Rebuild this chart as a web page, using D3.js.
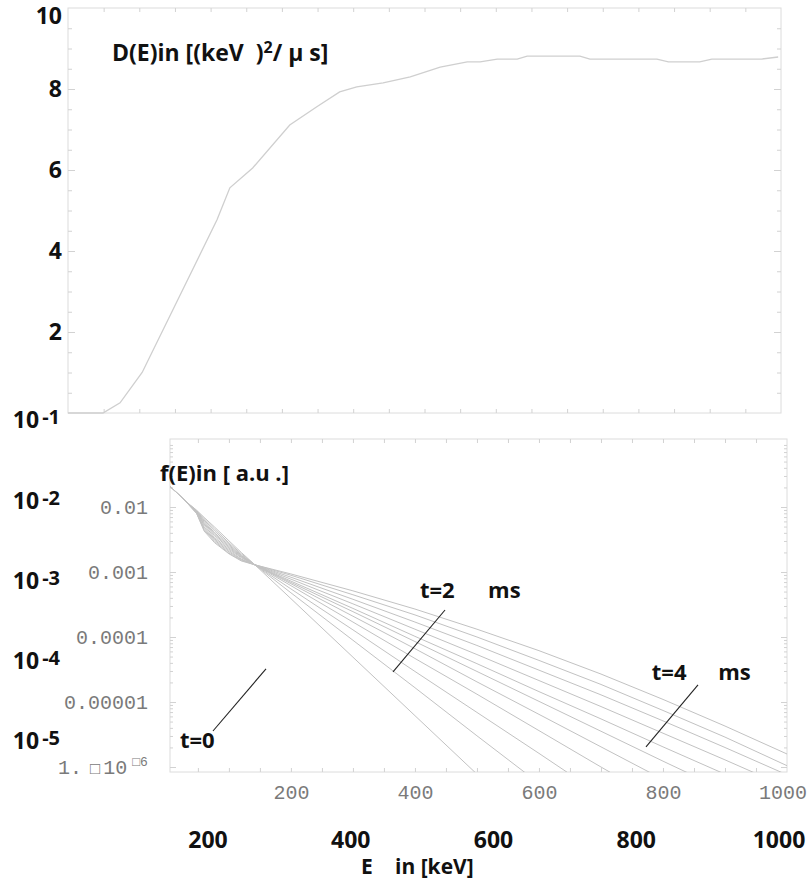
<!DOCTYPE html>
<html>
<head>
<meta charset="utf-8">
<script src="https://cdn.jsdelivr.net/npm/d3@7/dist/d3.min.js"></script>
<style>
  body { margin: 0; background: #fff; }
  svg { display: block; }
  .bold { font-family: "Open Sans", sans-serif; font-weight: 700; fill: #111; }
</style>
</head>
<body>
<svg id="chart" width="810" height="884"></svg>
<script>
// ---------- DATA ----------
// Top panel: diffusion coefficient D(E)
const dEnergy = [0, 49, 73, 104, 209, 227, 259, 311, 349, 381, 405, 442, 480, 522, 560, 578, 602, 630, 644, 718, 732, 826, 842, 886, 903, 973, 996];
const dValues = [0, 0, 0.25, 1.0, 4.77, 5.56, 6.05, 7.11, 7.56, 7.93, 8.05, 8.15, 8.3, 8.54, 8.67, 8.67, 8.74, 8.74, 8.81, 8.81, 8.74, 8.74, 8.67, 8.67, 8.74, 8.74, 8.79];

// Bottom panel: distribution f(E) at successive times (log10 values, null = off chart)
const fEnergy = [5, 30, 48, 60, 77, 100, 120, 142, 200, 300, 400, 500, 600, 700, 800, 900, 1000];
const fTimes = ["0", "0.4", "0.8", "1.2", "1.6", "2.0", "2.4", "2.8", "3.2", "3.6", "4.0"];
const fLog_t00 = [-1.68, -1.91, -2.05, -2.16, -2.31, -2.52, -2.70, -2.89, -3.41, -4.31, -5.21, -6.11, null, null, null, null, null];
const fLog_t04 = [-1.68, -1.91, -2.06, -2.18, -2.34, -2.55, -2.72, -2.89, -3.32, -4.05, -4.78, -5.52, -6.25, null, null, null, null];
const fLog_t08 = [-1.68, -1.91, -2.06, -2.20, -2.37, -2.57, -2.74, -2.89, -3.26, -3.89, -4.53, -5.16, -5.79, -6.43, null, null, null];
const fLog_t12 = [-1.68, -1.91, -2.07, -2.22, -2.40, -2.59, -2.75, -2.89, -3.21, -3.77, -4.33, -4.88, -5.44, -6.00, -6.55, null, null];
const fLog_t16 = [-1.68, -1.91, -2.07, -2.24, -2.42, -2.61, -2.76, -2.89, -3.18, -3.68, -4.18, -4.69, -5.19, -5.69, -6.19, null, null];
const fLog_t20 = [-1.68, -1.91, -2.08, -2.26, -2.44, -2.63, -2.77, -2.89, -3.16, -3.61, -4.07, -4.53, -4.99, -5.45, -5.91, -6.36, null];
const fLog_t24 = [-1.68, -1.91, -2.08, -2.28, -2.47, -2.65, -2.78, -2.89, -3.14, -3.56, -3.99, -4.41, -4.84, -5.26, -5.69, -6.11, null];
const fLog_t28 = [-1.68, -1.91, -2.09, -2.31, -2.49, -2.67, -2.80, -2.89, -3.11, -3.49, -3.88, -4.27, -4.67, -5.07, -5.48, -5.89, -6.31];
const fLog_t32 = [-1.68, -1.91, -2.09, -2.33, -2.51, -2.69, -2.81, -2.89, -3.08, -3.42, -3.77, -4.13, -4.51, -4.89, -5.29, -5.70, -6.12];
const fLog_t36 = [-1.68, -1.91, -2.10, -2.35, -2.53, -2.71, -2.82, -2.89, -3.05, -3.35, -3.66, -4.00, -4.36, -4.73, -5.13, -5.54, -5.98];
const fLog_t40 = [-1.68, -1.91, -2.10, -2.37, -2.55, -2.72, -2.83, -2.89, -3.03, -3.29, -3.57, -3.88, -4.21, -4.57, -4.96, -5.37, -5.80];
const fSeries = [fLog_t00, fLog_t04, fLog_t08, fLog_t12, fLog_t16, fLog_t20, fLog_t24, fLog_t28, fLog_t32, fLog_t36, fLog_t40];

// Tick labels
const topYTicks = [10, 8, 6, 4, 2];
const topYTickLabels = ["10", "8", "6", "4", "2"];
const boldLogTicks = [1e-1, 1e-2, 1e-3, 1e-4, 1e-5];
const boldLogExp = ["-1", "-2", "-3", "-4", "-5"];
const botYTicks = [1e-2, 1e-3, 1e-4, 1e-5];
const botYTickLabels = ["0.01", "0.001", "0.0001", "0.00001"];
const botYLastTick = 1e-6;
const botYLastParts = ["1.", "\u25A1", "10", "\u25A16"];
const botXTicks = [200, 400, 600, 800, 1000];
const botXTickLabels = ["200", "400", "600", "800", "1000"];
const boldXTicks = [200, 400, 600, 800, 1000];
const boldXTickLabels = ["200", "400", "600", "800", "1000"];

// Annotations (in bottom-panel data coordinates: energy, log10 f)
const annLines = [
  { e1: 159.8, l1: -4.49, e2: 74.3, l2: -5.446 },
  { e1: 448.5, l1: -3.585, e2: 364.6, l2: -4.538 },
  { e1: 856.5, l1: -4.738, e2: 772.6, l2: -5.692 }
];
const annLabels = [
  { text: "t=0", e: 21, l: -5.71, unit: null, eUnit: null },
  { text: "t=2", e: 408, l: -3.40, unit: "ms", eUnit: 518 },
  { text: "t=4", e: 782, l: -4.66, unit: "ms", eUnit: 889 }
];

// ---------- SCALES ----------
const svg = d3.select("#chart");
const xTop = d3.scaleLinear().domain([0, 1000]).range([68, 781]);
const yTop = d3.scaleLinear().domain([0, 10]).range([413, 8]);
const xBot = d3.scaleLinear().domain([5, 1000]).range([170, 787]);
const yBot = d3.scaleLog().domain([Math.pow(10, -6.077), Math.pow(10, -0.954)]).range([772, 439]);
const yBold = d3.scaleLog().domain([1e-1, 1e-5]).range([420, 741]);
const xBold = d3.scaleLinear().domain([200, 1000]).range([208, 779]);

const frameColor = "#dcdcdc";
const tickColor = "#d2d2d2";
const BOLD = 23;

function ticks(axisFn, scale, vals, size, tx, ty) {
  const g = svg.append("g").attr("transform", `translate(${tx},${ty})`)
    .call(axisFn(scale).tickValues(vals).tickSize(size).tickFormat(""));
  g.select(".domain").remove();
  g.selectAll("line").attr("stroke", tickColor).attr("stroke-width", 1);
}

// ---------- TOP PANEL ----------
svg.append("rect").attr("x", xTop(0)).attr("y", yTop(10))
  .attr("width", xTop(1000) - xTop(0)).attr("height", yTop(0) - yTop(10))
  .attr("fill", "none").attr("stroke", frameColor);

const topX = d3.range(50, 1000, 50);
ticks(d3.axisBottom, xTop, topX, -4, 0, yTop(0));
ticks(d3.axisTop, xTop, topX, -4, 0, yTop(10));
const topYmin = d3.range(0.5, 10, 0.5).filter(v => v % 2 !== 0);
const topYmaj = [2, 4, 6, 8];
ticks(d3.axisLeft, yTop, topYmin, -4, xTop(0), 0);
ticks(d3.axisLeft, yTop, topYmaj, -7, xTop(0), 0);
ticks(d3.axisRight, yTop, topYmin, -4, xTop(1000), 0);
ticks(d3.axisRight, yTop, topYmaj, -7, xTop(1000), 0);

svg.append("path")
  .datum(dEnergy.map((e, i) => [e, dValues[i]]))
  .attr("fill", "none").attr("stroke", "#cfcfcf").attr("stroke-width", 1.3)
  .attr("d", d3.line().x(d => xTop(d[0])).y(d => yTop(d[1])));

// Top title
const tTitle = svg.append("text").attr("class", "bold").attr("x", 112).attr("y", 61)
  .attr("font-size", BOLD).style("white-space", "pre");
tTitle.append("tspan").text("D(E)in [(keV  )");
tTitle.append("tspan").attr("font-size", 16).attr("dy", -8).text("2");
tTitle.append("tspan").attr("dy", 8).text("/ \u03bc s]");

// Bold y labels for top panel
svg.append("g").selectAll("text").data(topYTicks).join("text")
  .attr("class", "bold").attr("font-size", BOLD).attr("text-anchor", "end")
  .attr("x", 62).attr("y", d => Math.max(yTop(d), 16)).attr("dy", "0.36em")
  .text((d, i) => topYTickLabels[i]);

// Bold log labels (10^-1 ... 10^-5)
const bl = svg.append("g").selectAll("text").data(boldLogTicks).join("text")
  .attr("class", "bold").attr("font-size", BOLD).attr("text-anchor", "end")
  .attr("x", 60).attr("y", d => yBold(d)).attr("dy", "0.36em");
bl.append("tspan").text("10");
bl.append("tspan").attr("font-size", 20).attr("dx", 3).attr("dy", -4).text((d, i) => boldLogExp[i]);

// ---------- BOTTOM PANEL ----------
svg.append("rect").attr("x", xBot.range()[0]).attr("y", yBot.range()[1])
  .attr("width", xBot.range()[1] - xBot.range()[0]).attr("height", yBot.range()[0] - yBot.range()[1])
  .attr("fill", "none").attr("stroke", frameColor);

const botX = d3.range(50, 1000, 50);
ticks(d3.axisBottom, xBot, botX, -4, 0, yBot.range()[0]);
ticks(d3.axisTop, xBot, botX, -4, 0, yBot.range()[1]);
const decades = [1e-6, 1e-5, 1e-4, 1e-3, 1e-2, 1e-1];
const minorLog = [];
decades.forEach(dd => { for (let m = 2; m <= 9; m++) { const v = dd * m; if (v < yBot.domain()[1]) minorLog.push(v); } });
const majorLog = [1e-6, 1e-5, 1e-4, 1e-3, 1e-2];
ticks(d3.axisLeft, yBot, minorLog, -3, xBot.range()[0], 0);
ticks(d3.axisLeft, yBot, majorLog, -6, xBot.range()[0], 0);
ticks(d3.axisRight, yBot, minorLog, -3, xBot.range()[1], 0);
ticks(d3.axisRight, yBot, majorLog, -6, xBot.range()[1], 0);

// clip
svg.append("clipPath").attr("id", "clipBot").append("rect")
  .attr("x", xBot.range()[0]).attr("y", yBot.range()[1])
  .attr("width", xBot.range()[1] - xBot.range()[0]).attr("height", yBot.range()[0] - yBot.range()[1]);

const fLine = d3.line().defined(d => d[1] !== null)
  .x(d => xBot(d[0])).y(d => yBot(Math.pow(10, d[1])));
svg.append("g").attr("clip-path", "url(#clipBot)").selectAll("path")
  .data(fSeries).join("path")
  .attr("fill", "none").attr("stroke", "#c2c2c2").attr("stroke-width", 1)
  .attr("d", s => fLine(fEnergy.map((e, i) => [e, s[i]])));

// gray y tick labels
const gy = svg.append("g").attr("transform", `translate(${xBot.range()[0]},0)`)
  .call(d3.axisLeft(yBot).tickValues(botYTicks).tickSize(0).tickPadding(22)
    .tickFormat((d, i) => botYTickLabels[i]));
gy.select(".domain").remove();
gy.selectAll("text").attr("font-size", 20)
  .attr("font-family", "Liberation Mono").attr("fill", "#7a7a7a");

// last (1e-6) label with missing-glyph boxes, as in the original
const last = svg.append("text").attr("font-family", "Liberation Mono").attr("fill", "#7a7a7a")
  .attr("font-size", 20).attr("x", 58).attr("y", yBot(botYLastTick)).attr("dy", "0.36em");
last.append("tspan").text(botYLastParts[0]);
last.append("tspan").attr("dx", 8).attr("font-size", 17).text(botYLastParts[1]);
last.append("tspan").attr("dx", 3).text(botYLastParts[2]);
last.append("tspan").attr("dx", 5).attr("dy", -8).attr("font-size", 13).text(botYLastParts[3]);

// gray x tick labels
const gx = svg.append("g").attr("transform", `translate(0,${yBot.range()[0]})`)
  .call(d3.axisBottom(xBot).tickValues(botXTicks).tickSize(0).tickPadding(13)
    .tickFormat((d, i) => botXTickLabels[i]));
gx.select(".domain").remove();
gx.selectAll("text").attr("font-size", 20).attr("font-family", "Liberation Mono").attr("fill", "#7a7a7a");
gx.selectAll("text").each(function () {
  const w = this.getComputedTextLength();
  const tick = this.parentNode.getAttribute("transform");
  const xPos = +tick.match(/translate\(([-\d.]+)/)[1];
  if (xPos + w / 2 > 807) d3.select(this).attr("x", 807 - w / 2 - xPos);
});

// f(E) title
svg.append("text").attr("class", "bold").attr("x", 160).attr("y", 481)
  .attr("font-size", 22).style("white-space", "pre").text("f(E)in [ a.u .]");

// annotations
svg.append("g").selectAll("line").data(annLines).join("line")
  .attr("x1", d => xBot(d.e1)).attr("y1", d => yBot(Math.pow(10, d.l1)))
  .attr("x2", d => xBot(d.e2)).attr("y2", d => yBot(Math.pow(10, d.l2)))
  .attr("stroke", "#222").attr("stroke-width", 1.1);
svg.append("g").selectAll("text").data(annLabels).join("text")
  .attr("class", "bold").attr("font-size", 22)
  .attr("x", d => xBot(d.e)).attr("y", d => yBot(Math.pow(10, d.l)))
  .text(d => d.text);
svg.append("g").selectAll("text").data(annLabels.filter(d => d.unit)).join("text")
  .attr("class", "bold").attr("font-size", 22)
  .attr("x", d => xBot(d.eUnit)).attr("y", d => yBot(Math.pow(10, d.l)))
  .text(d => d.unit);

// bold x labels and axis title
svg.append("g").selectAll("text").data(boldXTicks).join("text")
  .attr("class", "bold").attr("font-size", BOLD).attr("text-anchor", "middle")
  .attr("x", d => xBold(d)).attr("y", 848)
  .text((d, i) => boldXTickLabels[i]);
svg.append("text").attr("class", "bold").attr("font-size", 21).attr("x", 361).attr("y", 874).text("E");
svg.append("text").attr("class", "bold").attr("font-size", 21).attr("x", 395).attr("y", 874).text("in [keV]");
</script>
</body>
</html>
